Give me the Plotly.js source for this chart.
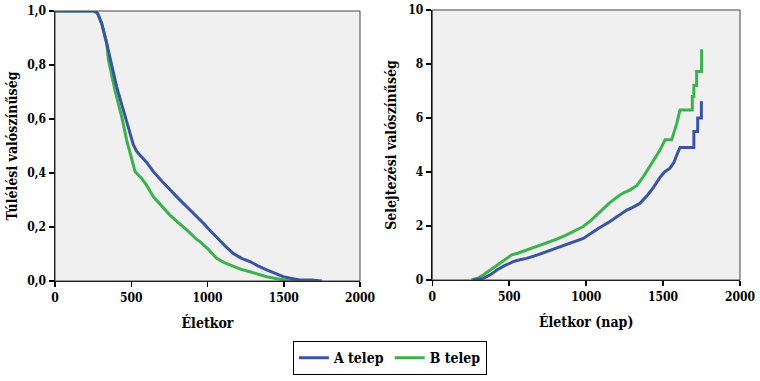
<!DOCTYPE html>
<html>
<head>
<meta charset="utf-8">
<script src="https://cdn.plot.ly/plotly-3.0.1.min.js"></script>
<style>html,body{margin:0;padding:0;background:#fff;}#chart{width:760px;height:381px;}</style>
</head>
<body>
<div id="chart"></div>
<script>
// Survival (left panel)
const survA_x = [0, 260, 280, 306, 339, 372, 404, 448, 492, 514, 536, 546, 600, 645, 700, 754, 810, 864, 920, 973, 1020, 1071, 1120, 1169, 1224, 1279, 1330, 1388, 1440, 1497, 1550, 1607, 1680, 1750];
const survA_y = [1, 1, 0.99, 0.954, 0.88, 0.794, 0.72, 0.633, 0.547, 0.504, 0.48, 0.473, 0.44, 0.405, 0.37, 0.337, 0.305, 0.275, 0.245, 0.214, 0.185, 0.154, 0.127, 0.102, 0.084, 0.072, 0.056, 0.041, 0.028, 0.016, 0.009, 0.004, 0.004, 0.0];
const survB_x = [0, 260, 280, 306, 339, 350, 393, 437, 470, 481, 525, 568, 600, 645, 700, 754, 810, 864, 929, 951, 1000, 1060, 1110, 1169, 1220, 1279, 1330, 1388, 1440, 1497, 1541, 1600, 1700];
const survB_y = [1, 1, 0.99, 0.954, 0.88, 0.819, 0.707, 0.609, 0.522, 0.497, 0.405, 0.38, 0.355, 0.312, 0.277, 0.244, 0.215, 0.189, 0.154, 0.146, 0.12, 0.084, 0.068, 0.053, 0.043, 0.034, 0.025, 0.016, 0.01, 0.004, 0.0, 0.0, 0.0];
// Cumulative hazard (right panel)
const hazA_x = [266, 300, 331, 380, 419, 470, 526, 570, 613, 680, 744, 810, 873, 930, 981, 1030, 1079, 1150, 1210, 1264, 1300, 1350, 1400, 1440, 1480, 1510, 1545, 1570, 1589, 1610, 1700, 1700, 1725, 1725, 1749, 1749];
const hazA_y = [0, 0.02, 0.06, 0.2, 0.37, 0.53, 0.68, 0.75, 0.80, 0.92, 1.05, 1.17, 1.30, 1.41, 1.54, 1.72, 1.91, 2.15, 2.38, 2.59, 2.68, 2.84, 3.15, 3.45, 3.8, 4.0, 4.14, 4.35, 4.63, 4.91, 4.91, 5.5, 5.5, 6.0, 6.0, 6.62];
const hazB_x = [255, 300, 331, 380, 419, 470, 516, 560, 613, 680, 744, 810, 873, 930, 981, 1030, 1079, 1101, 1150, 1220, 1250, 1285, 1330, 1372, 1426, 1480, 1513, 1556, 1589, 1610, 1690, 1690, 1700, 1700, 1718, 1718, 1750, 1750];
const hazB_y = [0, 0.08, 0.185, 0.38, 0.56, 0.76, 0.93, 1.0, 1.11, 1.24, 1.36, 1.51, 1.67, 1.82, 1.98, 2.2, 2.47, 2.59, 2.85, 3.15, 3.25, 3.33, 3.5, 3.83, 4.32, 4.81, 5.19, 5.19, 5.8, 6.3, 6.3, 6.8, 6.8, 7.2, 7.2, 7.72, 7.72, 8.55];

const seriesNames = ['<b>A telep</b>', '<b>B telep</b>'];
const colA = '#3a54a3';
const colB = '#3bb24c';

const serif = 'DejaVu Serif Condensed, DejaVu Serif';
const tickFont = {family: serif, size: 12, color: '#000', weight: 700};
const titleFont = {family: serif, size: 14, color: '#000', weight: 700};

const traces = [
  {x: survB_x, y: survB_y, type: 'scatter', mode: 'lines', name: seriesNames[1], line: {color: colB, width: 3}, xaxis: 'x', yaxis: 'y', legendrank: 2},
  {x: survA_x, y: survA_y, type: 'scatter', mode: 'lines', name: seriesNames[0], line: {color: colA, width: 3}, xaxis: 'x', yaxis: 'y', legendrank: 1},
  {x: hazB_x, y: hazB_y, type: 'scatter', mode: 'lines', name: seriesNames[1], line: {color: colB, width: 3}, xaxis: 'x2', yaxis: 'y2', showlegend: false},
  {x: hazA_x, y: hazA_y, type: 'scatter', mode: 'lines', name: seriesNames[0], line: {color: colA, width: 3}, xaxis: 'x2', yaxis: 'y2', showlegend: false}
];

const axBase = {
  showgrid: false, zeroline: false, showline: true, linecolor: '#000', linewidth: 1.5,
  ticks: 'outside', ticklen: 5, tickcolor: '#000', tickwidth: 1.5,
  tickfont: tickFont, automargin: false, fixedrange: true
};

const layout = {
  width: 760, height: 381,
  margin: {l: 0, r: 0, t: 0, b: 0},
  paper_bgcolor: '#ffffff',
  plot_bgcolor: '#f0f0f0',
  separators: ',.',
  showlegend: true,
  font: {family: serif, color: '#000'},
  legend: {
    orientation: 'h', x: 0.513, xanchor: 'center', y: 0.06, yanchor: 'middle',
    bordercolor: '#000', borderwidth: 1, bgcolor: '#fff',
    font: {family: serif, size: 14, color: '#000'},
    traceorder: 'normal', itemwidth: 30
  },
  xaxis: Object.assign({}, axBase, {domain: [0.0724, 0.4737], range: [0, 2000], dtick: 500, tick0: 0, anchor: 'y',
    title: {text: '<b>Életkor</b>', font: titleFont, standoff: 14}}),
  yaxis: Object.assign({}, axBase, {domain: [0.2625, 0.9711], range: [0, 1], dtick: 0.2, tick0: 0, tickformat: '.1f', anchor: 'x',
    title: {text: '<b>Túlélési valószínűség</b>', font: titleFont, standoff: 6}}),
  xaxis2: Object.assign({}, axBase, {domain: [0.5688, 0.9737], range: [0, 2000], dtick: 500, tick0: 0, anchor: 'y2',
    title: {text: '<b>Életkor (nap)</b>', font: titleFont, standoff: 14}}),
  yaxis2: Object.assign({}, axBase, {domain: [0.2651, 0.9738], range: [0, 10], dtick: 2, tick0: 0, anchor: 'x2',
    title: {text: '<b>Selejtezési valószínűség</b>', font: titleFont, standoff: 8}}),
  shapes: [
    {type: 'rect', xref: 'x domain', yref: 'y domain', x0: 0, x1: 1, y0: 0, y1: 1, line: {color: '#444', width: 1}, layer: 'above'},
    {type: 'rect', xref: 'x2 domain', yref: 'y2 domain', x0: 0, x1: 1, y0: 0, y1: 1, line: {color: '#444', width: 1}, layer: 'above'}
  ]
};

Plotly.newPlot('chart', traces, layout, {displayModeBar: false, staticPlot: true});
</script>
</body>
</html>
